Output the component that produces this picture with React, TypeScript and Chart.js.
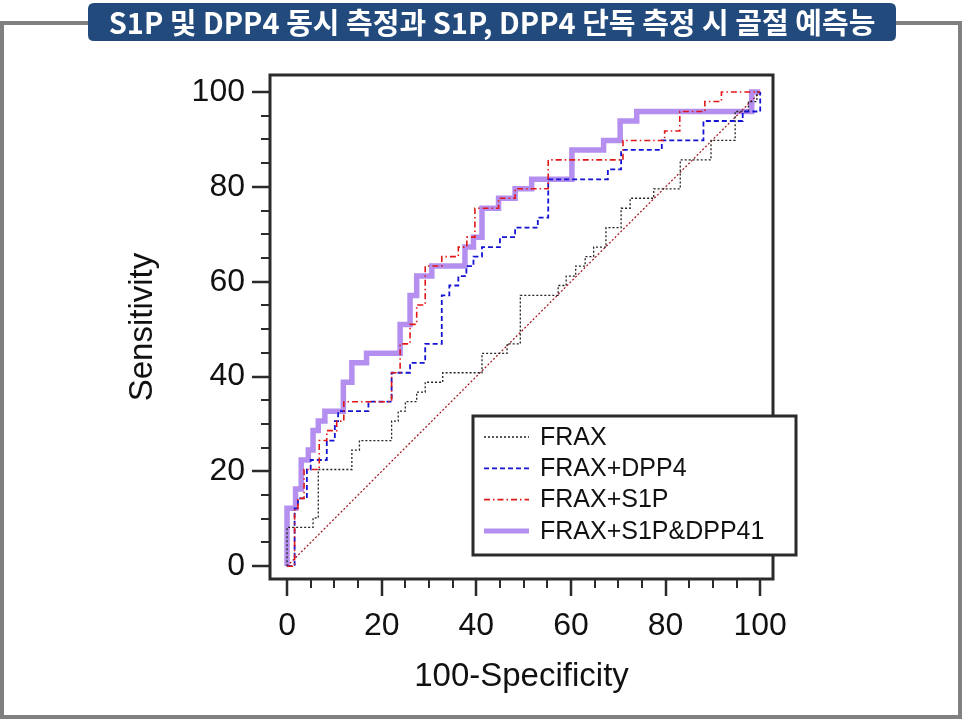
import React, { useEffect, useRef } from 'react';
import { Chart, registerables } from 'chart.js';

Chart.register(...registerables);

const TITLE = 'S1P 및 DPP4 동시 측정과 S1P, DPP4 단독 측정 시 골절 예측능';
const X_TITLE = '100-Specificity';
const Y_TITLE = 'Sensitivity';
const SERIES_NAMES = ['FRAX', 'FRAX+DPP4', 'FRAX+S1P', 'FRAX+S1P&DPP41'];
const X_TICKS = [0, 20, 40, 60, 80, 100];
const Y_TICKS = [0, 20, 40, 60, 80, 100];
const MINOR_TICKS = [5, 10, 15, 25, 30, 35, 45, 50, 55, 65, 70, 75, 85, 90, 95];

// each point = (right end of a horizontal run, sensitivity level of that run)
const FRAX_X = [0, 5.5, 6.6, 13.7, 15.3, 22.1, 23.5, 25.0, 27.4, 29.2, 32.9, 41.2, 46.5, 49.3, 57.3, 59.0, 61.0, 63.0, 64.8, 67.4, 70.6, 72.5, 77.5, 83.1, 89.6, 94.7, 97.5, 99.3, 100];
const FRAX_Y = [0, 8.2, 10.2, 20.4, 24.5, 26.5, 30.6, 32.7, 34.7, 36.7, 38.8, 40.8, 44.9, 46.9, 57.1, 59.2, 61.2, 63.3, 65.3, 67.3, 71.4, 75.5, 77.6, 79.6, 85.7, 89.8, 95.9, 98.0, 100];

const DPP4_X = [0, 1.6, 2.3, 4.2, 5.0, 8.4, 10.1, 10.8, 17.2, 22.1, 26.0, 29.2, 32.7, 34.3, 36.2, 37.9, 39.4, 41.2, 45.0, 48.2, 53.0, 55.2, 67.8, 70.6, 79.2, 88.0, 96.3, 100, 100];
const DPP4_Y = [0, 0, 12.2, 14.3, 20.4, 22.4, 26.5, 30.6, 32.7, 34.7, 40.8, 42.9, 46.9, 57.1, 59.2, 61.2, 63.3, 65.3, 67.3, 69.4, 71.4, 73.5, 81.6, 83.7, 87.8, 89.8, 93.9, 95.9, 100];

const S1P_X = [0, 1.6, 2.3, 3.6, 6.8, 8.4, 10.5, 12.0, 22.1, 23.9, 26.0, 27.4, 29.2, 32.7, 36.2, 38.0, 39.7, 44.7, 48.2, 55.2, 71.0, 79.8, 83.0, 88.3, 91.8, 98.3, 100];
const S1P_Y = [0, 0, 12.2, 14.3, 20.4, 26.5, 28.6, 30.6, 34.7, 40.8, 46.9, 51.0, 55.1, 63.3, 65.3, 67.3, 69.4, 75.5, 77.6, 79.6, 85.7, 89.8, 91.8, 95.9, 98.0, 100, 100];

const BOTH_X = [0, 1.8, 3.0, 4.5, 5.5, 6.6, 8.0, 11.9, 13.7, 16.8, 23.9, 26.0, 27.4, 30.6, 37.6, 39.4, 41.2, 44.7, 48.2, 51.7, 60.2, 66.9, 70.4, 73.9, 98.2, 100];
const BOTH_Y = [0, 12.2, 16.3, 22.4, 24.5, 28.6, 30.6, 32.7, 38.8, 42.9, 44.9, 51.0, 57.1, 61.2, 63.3, 67.3, 69.4, 75.5, 77.6, 79.6, 81.6, 87.8, 89.8, 93.9, 95.9, 100];

const REF_X = [0, 100];
const REF_Y = [0, 100];

const FONT = "'Liberation Sans', Arial, sans-serif";

function stepPoints(xs: number[], ys: number[]) {
  const pts = [{ x: xs[0], y: ys[0] }];
  for (let k = 1; k < xs.length; k++) {
    pts.push({ x: xs[k - 1], y: ys[k] });
    pts.push({ x: xs[k], y: ys[k] });
  }
  return pts;
}

export default function App() {
  const ref = useRef<HTMLCanvasElement>(null);

  useEffect(() => {
    const canvas = ref.current;
    if (!canvas) return;

    const decor = {
      id: 'decor',
      beforeDraw(chart: any) {
        const ctx = chart.ctx;
        ctx.save();
        ctx.fillStyle = '#ffffff';
        ctx.fillRect(0, 0, chart.width, chart.height);
        // outer frame
        ctx.strokeStyle = '#808080';
        ctx.lineWidth = 4;
        ctx.strokeRect(2, 23, 958, 694);
        // title box
        const bx = 88, by = 3, bw = 808, bh = 38, r = 6;
        ctx.fillStyle = '#224a7c';
        ctx.beginPath();
        ctx.moveTo(bx + r, by);
        ctx.lineTo(bx + bw - r, by);
        ctx.quadraticCurveTo(bx + bw, by, bx + bw, by + r);
        ctx.lineTo(bx + bw, by + bh - r);
        ctx.quadraticCurveTo(bx + bw, by + bh, bx + bw - r, by + bh);
        ctx.lineTo(bx + r, by + bh);
        ctx.quadraticCurveTo(bx, by + bh, bx, by + bh - r);
        ctx.lineTo(bx, by + r);
        ctx.quadraticCurveTo(bx, by, bx + r, by);
        ctx.closePath();
        ctx.fill();
        ctx.fillStyle = '#ffffff';
        ctx.font = "bold 29px 'Noto Sans CJK KR', sans-serif";
        ctx.textAlign = 'center';
        ctx.textBaseline = 'middle';
        ctx.fillText(TITLE, bx + bw / 2, by + bh / 2 + 1);
        ctx.restore();
      },
      afterDraw(chart: any) {
        const ctx = chart.ctx;
        const a = chart.chartArea;
        const xs = chart.scales.x;
        const ys = chart.scales.y;
        ctx.save();
        ctx.strokeStyle = '#2b2b2b';
        ctx.lineWidth = 3;
        ctx.strokeRect(a.left, a.top, a.right - a.left, a.bottom - a.top);
        ctx.lineWidth = 2.5;
        ctx.beginPath();
        X_TICKS.forEach((v) => {
          const px = Math.round(xs.getPixelForValue(v));
          ctx.moveTo(px, a.bottom);
          ctx.lineTo(px, a.bottom + 17);
        });
        Y_TICKS.forEach((v) => {
          const py = Math.round(ys.getPixelForValue(v));
          ctx.moveTo(a.left, py);
          ctx.lineTo(a.left - 18, py);
        });
        ctx.stroke();
        ctx.lineWidth = 2;
        ctx.beginPath();
        MINOR_TICKS.forEach((v) => {
          const px = Math.round(xs.getPixelForValue(v));
          ctx.moveTo(px, a.bottom);
          ctx.lineTo(px, a.bottom + 9);
          const py = Math.round(ys.getPixelForValue(v));
          ctx.moveTo(a.left, py);
          ctx.lineTo(a.left - 9, py);
        });
        ctx.stroke();

        // legend
        const lx = 473, ly = 416, lw = 323, lh = 139;
        ctx.fillStyle = '#ffffff';
        ctx.fillRect(lx, ly, lw, lh);
        ctx.strokeStyle = '#2b2b2b';
        ctx.lineWidth = 3;
        ctx.strokeRect(lx, ly, lw, lh);
        const dsets = chart.data.datasets;
        SERIES_NAMES.forEach((name, i) => {
          const ds = dsets.find((d: any) => d.label === name);
          const y = 437 + i * 31.3;
          ctx.save();
          ctx.strokeStyle = ds.borderColor;
          ctx.lineWidth = Math.min(ds.borderWidth, 5);
          ctx.setLineDash(ds.borderDash || []);
          ctx.beginPath();
          ctx.moveTo(484, y);
          ctx.lineTo(529, y);
          ctx.stroke();
          ctx.restore();
          ctx.fillStyle = '#111111';
          ctx.font = `25px ${FONT}`;
          ctx.textAlign = 'left';
          ctx.textBaseline = 'middle';
          ctx.fillText(name, 540, y + 1);
        });
        ctx.restore();
      },
    };

    const chart = new Chart(canvas, {
      type: 'line',
      data: {
        datasets: [
          {
            label: SERIES_NAMES[2],
            data: stepPoints(S1P_X, S1P_Y),
            borderColor: '#e01818',
            borderWidth: 1.6,
            borderDash: [6, 3, 1.5, 3],
            pointRadius: 0,
            order: 1,
          },
          {
            label: SERIES_NAMES[1],
            data: stepPoints(DPP4_X, DPP4_Y),
            borderColor: '#1414d2',
            borderWidth: 1.8,
            borderDash: [5, 3],
            pointRadius: 0,
            order: 2,
          },
          {
            label: SERIES_NAMES[0],
            data: stepPoints(FRAX_X, FRAX_Y),
            borderColor: '#222222',
            borderWidth: 1.3,
            borderDash: [2, 2],
            pointRadius: 0,
            order: 3,
          },
          {
            label: 'reference',
            data: REF_X.map((x, i) => ({ x, y: REF_Y[i] })),
            borderColor: '#a01020',
            borderWidth: 1.2,
            borderDash: [2, 2],
            pointRadius: 0,
            order: 4,
          },
          {
            label: SERIES_NAMES[3],
            data: stepPoints(BOTH_X, BOTH_Y),
            borderColor: '#b48ff0',
            borderWidth: 5.5,
            borderJoinStyle: 'miter',
            pointRadius: 0,
            order: 5,
          },
        ],
      } as any,
      options: {
        responsive: false,
        animation: false,
        devicePixelRatio: 1,
        layout: { padding: { left: 113, right: 190, top: 75, bottom: 23 } },
        plugins: {
          legend: { display: false },
          title: { display: false },
          tooltip: { enabled: false },
        },
        scales: {
          x: {
            type: 'linear',
            min: -3.6,
            max: 102.7,
            grid: { display: false, drawTicks: false },
            border: { display: false },
            afterBuildTicks: (scale: any) => {
              scale.ticks = X_TICKS.map((v) => ({ value: v }));
            },
            afterFit: (scale: any) => {
              scale.height = 118;
            },
            ticks: {
              padding: 28,
              color: '#111111',
              font: { size: 32, family: FONT },
              maxRotation: 0,
              callback: (v: any) => String(v),
            },
            title: {
              display: true,
              text: X_TITLE,
              color: '#111111',
              font: { size: 33, family: FONT },
              padding: { top: 0, bottom: 0 },
            },
          },
          y: {
            type: 'linear',
            min: -2.7,
            max: 103.6,
            grid: { display: false, drawTicks: false },
            border: { display: false },
            afterBuildTicks: (scale: any) => {
              scale.ticks = Y_TICKS.map((v) => ({ value: v }));
            },
            afterFit: (scale: any) => {
              scale.width = 157;
            },
            ticks: {
              padding: 25,
              color: '#111111',
              font: { size: 32, family: FONT },
              callback: (v: any) => String(v),
            },
            title: {
              display: true,
              text: Y_TITLE,
              color: '#111111',
              font: { size: 33, family: FONT },
              padding: { top: 10, bottom: 0 },
            },
          },
        },
      } as any,
      plugins: [decor],
    });

    return () => chart.destroy();
  }, []);

  return (
    <div style={{ position: 'absolute', left: 0, top: 0, width: 963, height: 720, background: '#fff' }}>
      <canvas ref={ref} width={963} height={720} style={{ display: 'block', width: 963, height: 720 }} />
    </div>
  );
}
